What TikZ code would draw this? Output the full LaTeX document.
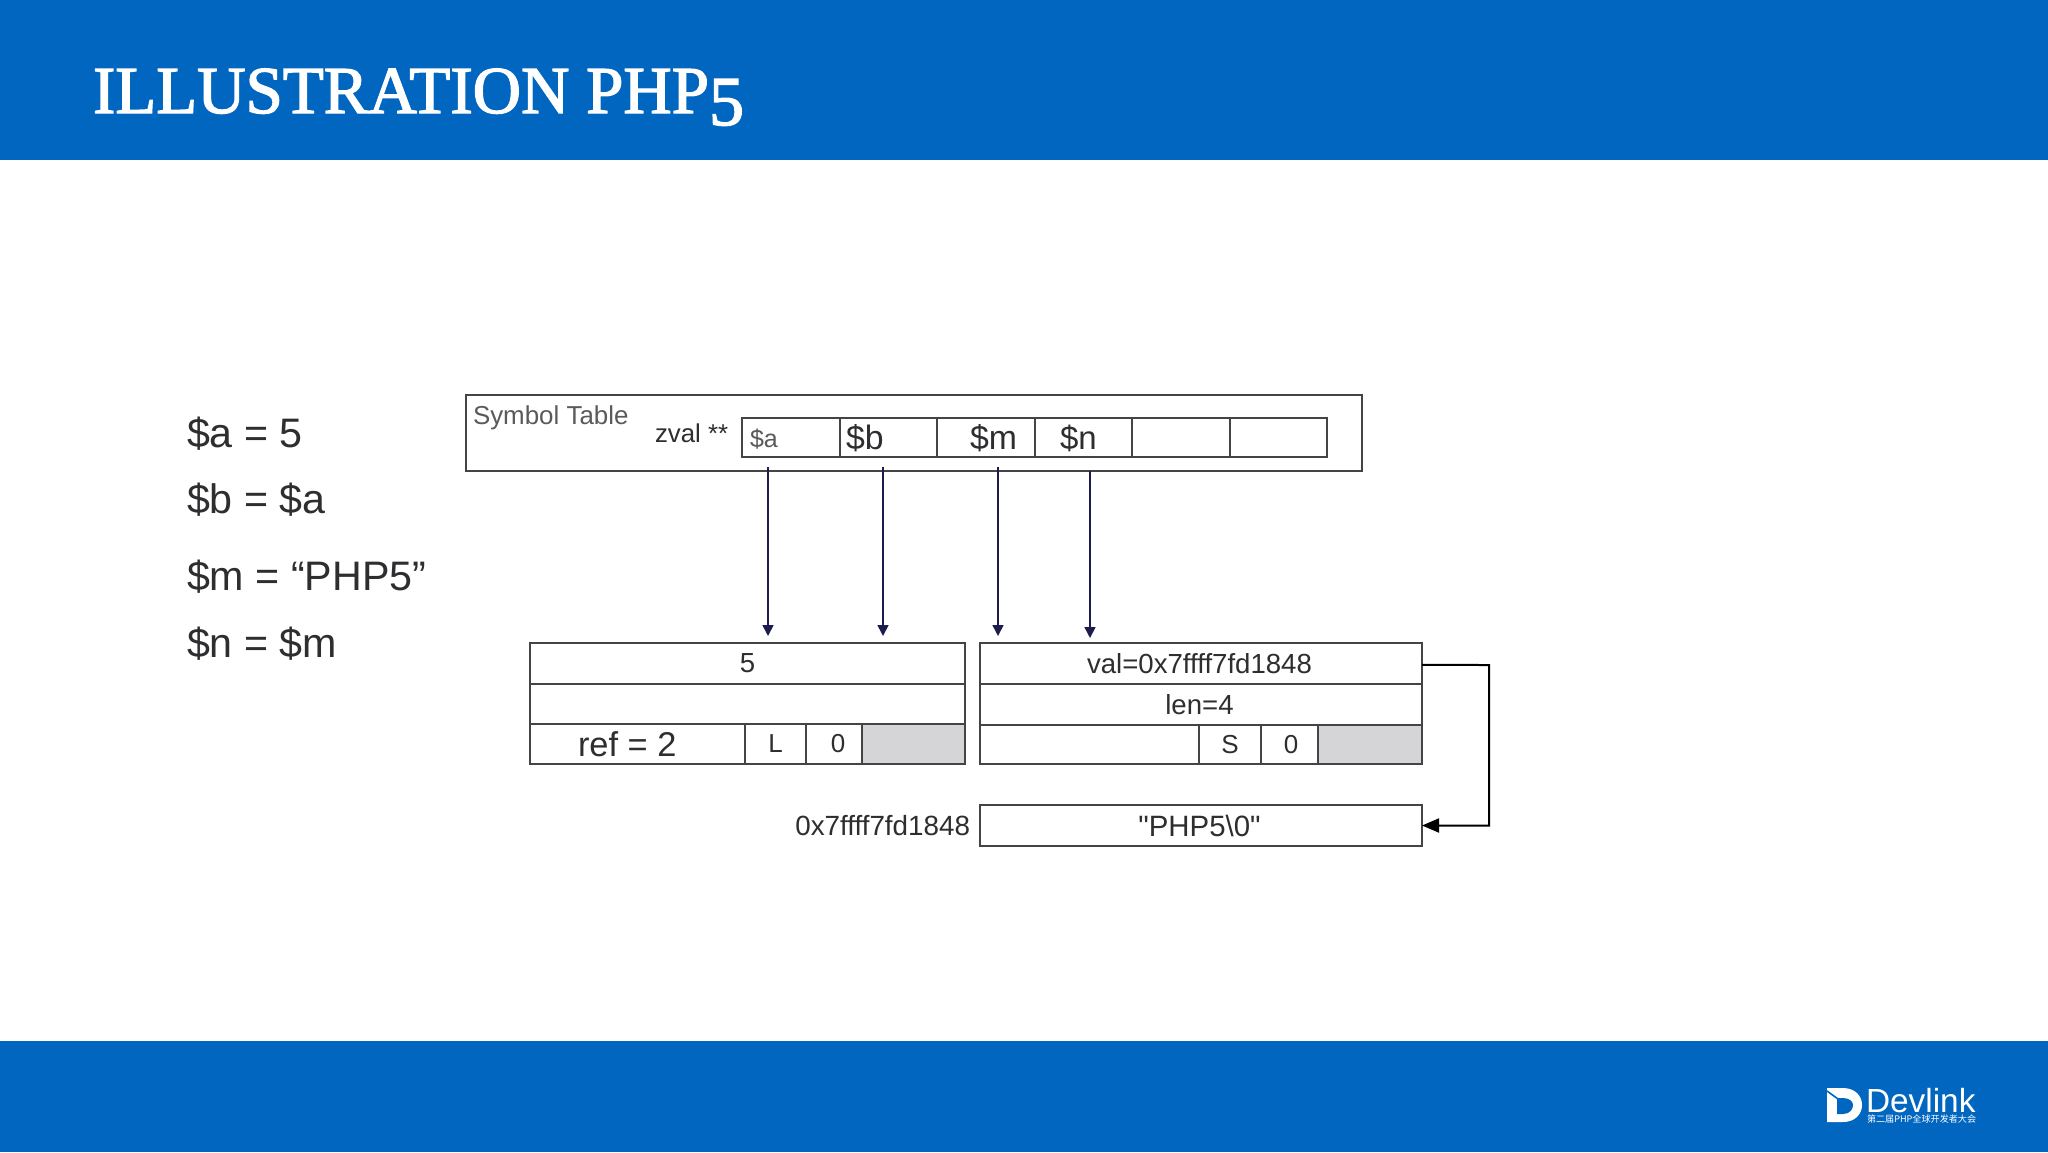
\documentclass[tikz,border=0pt]{standalone}
\usepackage{fontspec}
\setmainfont{Liberation Sans}
\newfontfamily\plainfont{Liberation Sans}
\newfontfamily\titlefont[RawFeature={embolden=2}]{Liberation Serif}
\newfontfamily\cjkfont{Noto Sans CJK SC}
\usetikzlibrary{arrows.meta}
\definecolor{band}{HTML}{0066C0}
\definecolor{linec}{HTML}{444446}
\definecolor{txt}{HTML}{2E2E30}
\definecolor{txtgray}{HTML}{5A5A5C}
\definecolor{shade}{HTML}{D5D5D7}
\definecolor{navy}{HTML}{1C1C4E}
\newcommand{\fs}[1]{\fontsize{#1}{#1}\selectfont}
\tikzset{
  x=0.5pt,y=-0.5pt,
  cellbox/.style 2 args={draw=linec,line width=1pt,inner sep=0pt,outer sep=0pt,minimum width=#1*0.5pt,minimum height=#2*0.5pt,anchor=north west,text=txt,font=\fs{13.8}},
  lbl/.style={inner sep=0pt,outer sep=0pt,anchor=base west,text=txt},
  code/.style={lbl,font=\fs{20.6}},
  ptr/.style={draw=navy,line width=0.8pt,-{Triangle[length=5.5pt,width=5.5pt]}},
  link/.style={draw=black,line width=1pt,-{Triangle[length=8.5pt,width=7pt]}},
}
\begin{document}
\begin{tikzpicture}
\useasboundingbox (0,0) rectangle (2048,1152);
\fill[white] (0,0) rectangle (2048,1152);
\fill[band] (0,0) rectangle (2048,160);
\fill[band] (0,1041) rectangle (2048,1152);
\node[lbl,text=white,font=\titlefont\fs{33.5}] (title) at (93,113) {ILLUSTRATION PHP\raisebox{-6pt}{\fs{35}5}};
% code
\node[code] (c1) at (187,447.5) {\$a = 5};
\node[code] (c2) at (187,513.5) {\$b = \$a};
\node[code] (c3) at (187,590.5) {\$m = “PHP5”};
\node[code] (c4) at (187,657.5) {\$n = \$m};
% symbol table
\node[cellbox={896}{76}] (symtab) at (466,395) {};
\node[lbl,text=txtgray,font=\fs{12.95}] (symlabel) at (473,424) {Symbol Table};
\node[lbl,font=\fs{12.9}] (zval) at (655,442) {zval **};
\node[cellbox={97.5}{39}] (ca) at (742,418) {};
\node[cellbox={97.5}{39}] (cb) at (839.5,418) {};
\node[cellbox={97.5}{39}] (cm) at (937,418) {};
\node[cellbox={97.5}{39}] (cn) at (1034.5,418) {};
\node[cellbox={97.5}{39}] (ce) at (1132,418) {};
\node[cellbox={97.5}{39}] (cf) at (1229.5,418) {};
\node[lbl,text=txtgray,font=\fs{12.5}] (ta) at (750,447) {\$a};
\node[code,font=\fs{16.9}] (tb) at (846,449) {\$b};
\node[code,font=\fs{16.9}] (tm) at (970,449) {\$m};
\node[code,font=\fs{16.5}] (tn) at (1060,449) {\$n};
% left zval
\node[cellbox={435}{40.5}] (l1) at (530,643) {5};
\node[cellbox={435}{40.5}] (l2) at (530,683.5) {};
\node[cellbox={215}{40}] (l3) at (530,724) {};
\node[cellbox={61}{40},font=\fs{13}] (l4) at (745,724) {L};
\node[cellbox={56}{40},font=\fs{13}] (l5) at (806,724) {\hspace{4pt}0};
\node[cellbox={103}{40},fill=shade] (l6) at (862,724) {};
\node[lbl,font=\fs{17.2}] (refc) at (578,756) {ref = 2};
% right zval
\node[cellbox={442}{41}] (r1) at (980,643) {\hspace{-1.5pt}val=0x7ffff7fd1848};
\node[cellbox={442}{41}] (r2) at (980,684) {\hspace{-1.5pt}len=4};
\node[cellbox={219}{39}] (r3) at (980,725) {};
\node[cellbox={62}{39},font=\fs{13}] (r4) at (1199,725) {S};
\node[cellbox={57}{39},font=\fs{13}] (r5) at (1261,725) {\hspace{1.5pt}0};
\node[cellbox={104}{39},fill=shade] (r6) at (1318,725) {};
% string
\node[cellbox={442}{41},font=\fs{14.7}] (str) at (980,805) {\plainfont\hspace{-1.5pt}"PHP5\textbackslash 0"};
\node[lbl,anchor=base east,font=\fs{13.9}] (addr) at (970,835) {0x7ffff7fd1848};
% connectors
\coordinate (xa) at (768,467);
\coordinate (xb) at (883,467);
\coordinate (xm) at (998,467);
\coordinate (xn) at (1090,471);
\draw[ptr] (xa) -- ([yshift=3.5pt]xa |- l1.north);
\draw[ptr] (xb) -- ([yshift=3.5pt]xb |- l1.north);
\draw[ptr] (xm) -- ([yshift=3.5pt]xm |- r1.north);
\draw[ptr] (xn) -- ([yshift=2.5pt]xn |- r1.north);
\coordinate (bend) at (1489,665);
\draw[link] ([yshift=-0.7pt]r1.east) -- (bend) -- (bend |- str.east) -- (str.east);
% logo
\fill[white] (1827,1088) -- (1843,1088) .. controls (1855,1088) and (1862,1096) .. (1862,1105) .. controls (1862,1114) and (1855,1122) .. (1843,1122) -- (1827,1122) -- cycle;
\fill[band] (1837,1098) -- (1843,1098) .. controls (1850,1098) and (1853,1102) .. (1853,1105) .. controls (1853,1109) and (1850,1114) .. (1843,1114) -- (1837,1114) -- cycle;
\draw[band,line width=0.8pt] (1827,1091) -- (1838,1099);
\node[lbl,text=white,font=\fs{16.7}] (devlink) at (1866,1112) {Devlink};
\node[lbl,text=white,font=\cjkfont\fs{4.55}] (devsub) at (1867,1122) {第二届PHP全球开发者大会};
\end{tikzpicture}
\end{document}
